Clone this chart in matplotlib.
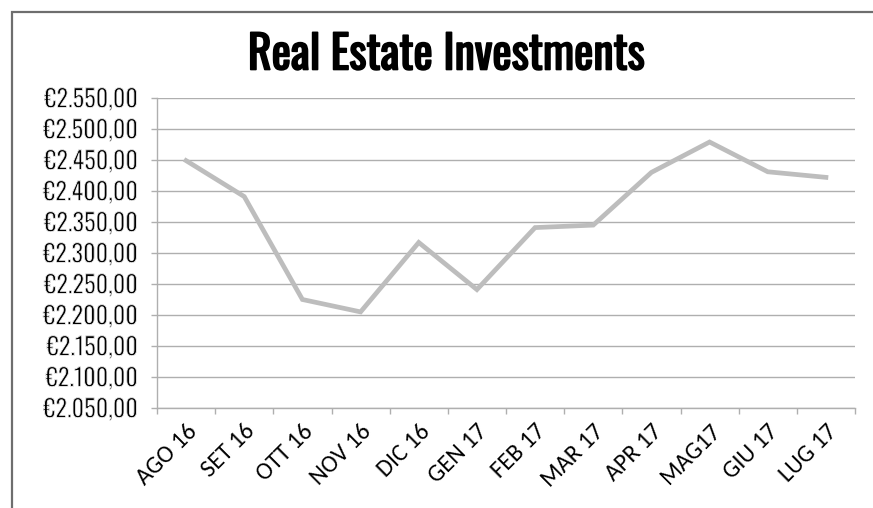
import matplotlib
matplotlib.use("Agg")
import matplotlib.pyplot as plt
import matplotlib.patheffects as pe
from matplotlib import font_manager
from matplotlib.patches import Rectangle
from matplotlib.ticker import FixedLocator, FuncFormatter

months = ["AGO 16", "SET 16", "OTT 16", "NOV 16", "DIC 16", "GEN 17",
          "FEB 17", "MAR 17", "APR 17", "MAG17", "GIU 17", "LUG 17"]
values = [2449, 2391, 2225, 2205, 2317, 2241, 2341, 2345, 2430, 2479, 2431, 2422]
y_ticks = [2050, 2100, 2150, 2200, 2250, 2300, 2350, 2400, 2450, 2500, 2550]

installed = {f.name for f in font_manager.fontManager.ttflist}


def pick(*names):
    for n in names:
        if n in installed:
            return n
    return "DejaVu Sans"


title_font = pick("Oswald SemiBold", "Oswald Medium", "Oswald", "Bebas Neue")
ylab_font = pick("Oswald Light", "Oswald", "Barlow Condensed", "Archivo Narrow")
xlab_font = pick("Carlito", "Calibri", "Lato")


def euro(v, pos):
    s = f"{v:,.2f}".replace(",", "X").replace(".", ",").replace("X", ".")
    return "€" + s


fig = plt.figure(figsize=(8.73, 5.08), dpi=100)
ax = fig.add_axes([157 / 873, 1 - 408 / 508, 698 / 873, 310 / 508])

x = [i + 0.5 for i in range(len(months))]
ax.plot(x, values, color="#BDBDBD", lw=3.4, solid_joinstyle="miter", zorder=3)

ax.set_xlim(0, len(months))
ax.set_ylim(2050, 2550)
ax.yaxis.set_major_locator(FixedLocator(y_ticks))
ax.yaxis.set_major_formatter(FuncFormatter(euro))
ax.set_xticks(range(len(months) + 1))
ax.set_xticklabels([])
ax.set_xticks(x, minor=True)
ax.set_xticklabels(months, minor=True, rotation=45, ha="right", va="top",
                   rotation_mode="anchor", fontsize=17.5, family=xlab_font)
ax.tick_params(axis="x", which="minor", length=0, pad=9)
ax.tick_params(axis="x", which="major", length=4.3, color="#AFAFAF", width=1)
ax.tick_params(axis="y", length=4, color="#AFAFAF", width=1, pad=10)
# the reference uses a light cut; only regular is here, so trim the edges in white
thin = [pe.Normal(), pe.Stroke(linewidth=0.6, foreground="white")]
for lab in ax.get_yticklabels():
    lab.set_family(ylab_font)
    lab.set_fontsize(17.5)
    lab.set_fontweight(300)
    if ylab_font == "Oswald":
        lab.set_path_effects(thin)

ax.grid(axis="y", color="#AFAFAF", lw=1.0)
ax.set_axisbelow(True)
for side in ["top", "right"]:
    ax.spines[side].set_visible(False)
for side in ["left", "bottom"]:
    ax.spines[side].set_color("#AFAFAF")
    ax.spines[side].set_linewidth(1.0)

title_kw = dict(ha="center", va="center", fontsize=33, family=title_font)
if title_font == "Oswald":
    # only the regular cut is there, so thicken the strokes a little
    title_kw["path_effects"] = [pe.withStroke(linewidth=1.2, foreground="black")]
fig.text(0.5 * (245 + 648) / 873, 1 - 55 / 508, "Real Estate Investments",
         **title_kw)

# outer frame (only top and left edges fall inside the picture)
fig.add_artist(Rectangle((12 / 873, -0.2), 1.2, 1.2 - 12 / 508,
                         transform=fig.transFigure, fill=False,
                         edgecolor="#6E6E6E", lw=1.6, clip_on=False))

fig.savefig("out.png", dpi=100)
